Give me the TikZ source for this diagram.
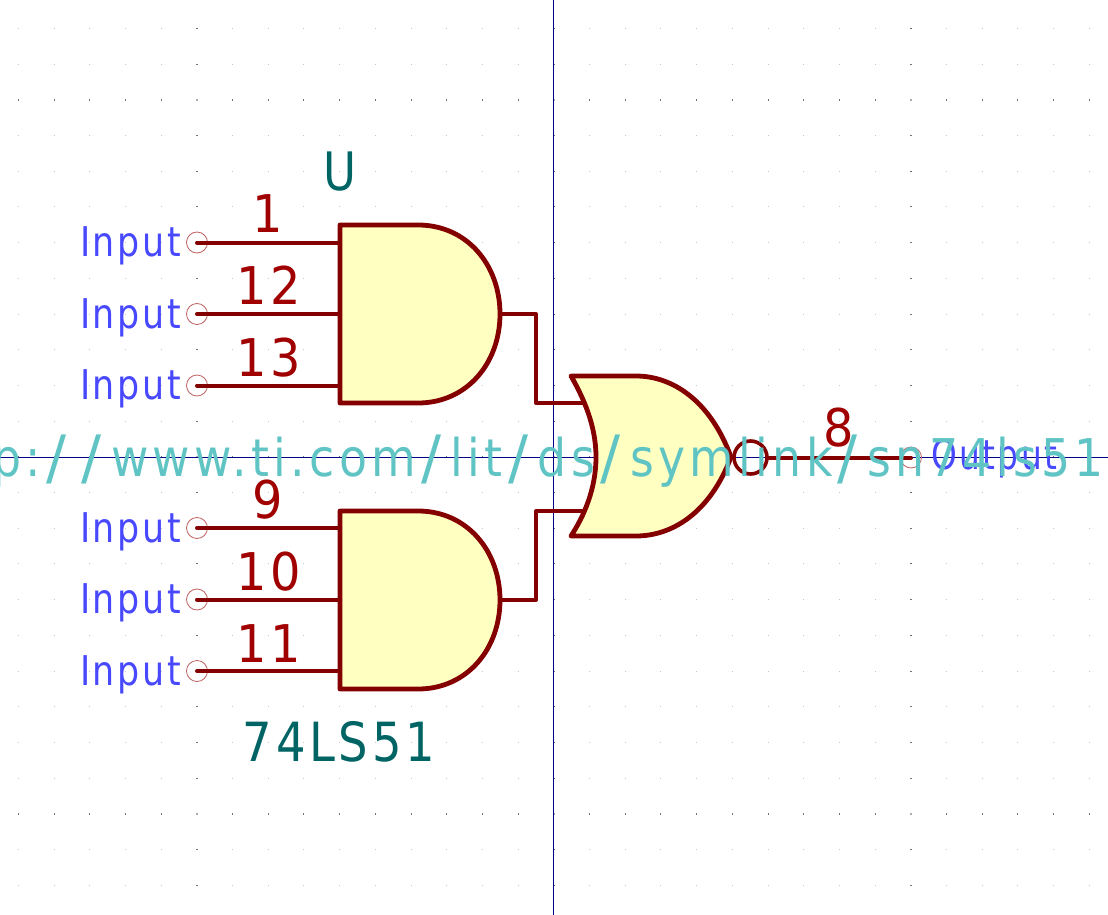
\documentclass[tikz,border=0pt]{standalone}
\usepackage{fontspec}
\usepackage{graphicx}
\setmainfont{DejaVu Sans}
\newfontfamily\urlfont[LetterSpace=9.5]{DejaVu Sans}
\newfontfamily\inpfont[LetterSpace=7.5]{DejaVu Sans}
\newfontfamily\numfont[LetterSpace=8]{DejaVu Sans}
\newcommand{\kt}[3]{\scalebox{#1}[1]{\fontsize{#2}{#2}\selectfont #3}}
\newcommand{\usl}{\hspace{6pt}\raisebox{-2.5pt}{\scalebox{1.3}[1.15]{/}}\hspace{11pt}}
\definecolor{bodyline}{HTML}{840000}
\definecolor{bodyfill}{HTML}{FFFFC2}
\definecolor{pinnum}{HTML}{A00000}
\definecolor{pinname}{HTML}{4848FF}
\definecolor{fieldteal}{HTML}{006464}
\definecolor{urlteal}{HTML}{60C4C4}
\definecolor{axisblue}{HTML}{000084}
\definecolor{endcircle}{HTML}{C06060}
\tikzset{
  gatebody/.style={draw=bodyline,fill=bodyfill,line width=4.8pt,line join=round},
  wire/.style={draw=bodyline,line width=4pt,line cap=round,line join=round},
  endmark/.style={draw=endcircle,line width=0.8pt,fill=none,circle,minimum size=21pt,inner sep=0pt,outer sep=0pt},
  axisline/.style={draw=axisblue,line width=1pt},
  txt/.style={inner sep=0pt,outer sep=0pt},
  pinlabel/.style={txt,anchor=base,text=pinnum},
  inlabel/.style={txt,anchor=base west,text=pinname},
  fieldlabel/.style={txt,anchor=base,text=fieldteal}
}
\newcommand{\griddots}{%
  \foreach \i in {0,...,30}{\foreach \j in {0,...,24}{%
    \pgfmathsetmacro{\gx}{18.3+35.7*\i}%
    \pgfmathsetmacro{\gy}{28.4+35.7*\j}%
    \pgfmathtruncatemacro{\mi}{mod(\i,10)==5 ? 1 : 0}%
    \pgfmathtruncatemacro{\mj}{mod(\j,10)==2 ? 1 : 0}%
    \pgfmathtruncatemacro{\both}{\mi+\mj}%
    \ifnum\both=2
      \fill[black!33] (\gx-1,\gy-1) rectangle (\gx+1,\gy+1);
    \else\ifnum\mi=1
      \fill[black!55] (\gx-1,\gy-0.5) rectangle (\gx+1,\gy+0.5);
    \else\ifnum\mj=1
      \fill[black!55] (\gx-0.5,\gy-1) rectangle (\gx+0.5,\gy+1);
    \else
      \fill[black!22] (\gx-0.5,\gy-0.5) rectangle (\gx+0.5,\gy+0.5);
    \fi\fi\fi
  }}%
}
\begin{document}
\begin{tikzpicture}[x=1pt,y=-1pt]
\useasboundingbox (0,0) rectangle (1108,915);
\begin{scope}
\clip (0,0) rectangle (1108,915);
\griddots
% axes
\coordinate (axT) at (553.5,0);
\coordinate (axB) at (553.5,915);
\coordinate (axL) at (0,457.5);
\coordinate (axR) at (1108,457.5);
\draw[axisline] (axT) -- (axB);
\draw[axisline] (axL) -- (axR);
% upper AND gate
\draw[gatebody] (340,225) -- (418,225) .. controls (467,225) and (500,265) .. (500,314)
  .. controls (500,363) and (467,403) .. (418,403) -- (340,403) -- cycle;
% lower AND gate
\draw[gatebody] (340,511) -- (418,511) .. controls (467,511) and (500,551) .. (500,600)
  .. controls (500,649) and (467,689) .. (418,689) -- (340,689) -- cycle;
% pin end points and body points
\foreach \n/\yy in {a/242.5,b/314,c/385.5,d/528,e/599.5,f/671}{
  \node[endmark] (end\n) at (197,\yy) {};
  \coordinate (pin\n) at (197,\yy);
  \coordinate (body\n) at (340,\yy);
  \draw[wire] (pin\n) -- (body\n);
}
% connections to the OR gate
\coordinate (outU) at (500,314);
\coordinate (outL) at (500,600);
\coordinate (kneeU) at (536,314);
\coordinate (kneeL) at (536,600);
\coordinate (kneeU2) at (536,403);
\coordinate (kneeL2) at (536,511);
\coordinate (orU) at (585,403);
\coordinate (orL) at (585,511);
\draw[wire] (outU) -- (kneeU) -- (kneeU2) -- (orU);
\draw[wire] (outL) -- (kneeL) -- (kneeL2) -- (orL);
% OR gate
\draw[gatebody] (571,376) -- (636,376) .. controls (672,376) and (710,400) .. (731,457)
  .. controls (710,513) and (672,536) .. (636,536) -- (571,536)
  .. controls (584,516) and (596,489) .. (596,457)
  .. controls (596,425) and (583,397) .. (571,376) -- cycle;
% output pin
\node[circle,draw=bodyline,line width=3.6pt,minimum size=33pt,inner sep=0pt,outer sep=1.7pt] (bubble) at (750.5,457.5) {};
\node[endmark] (endo) at (911,457.5) {};
\coordinate (pino) at (911,457.5);
\draw[wire] (bubble) -- (pino);
% pin names
\foreach \n/\yy in {a/256,b/328,c/399,d/542,e/613,f/685}{
  \node[inlabel] (name\n) at (80,\yy) {\kt{0.85}{41}{\inpfont Input}};
}
\node[inlabel] (nameo) at (931,469) {\kt{0.80}{41}{\inpfont Output}};
% pin numbers
\node[pinlabel] (num1) at (268,232) {\kt{0.92}{52}{1}};
\node[pinlabel] (num12) at (269,304) {\kt{0.92}{52}{\numfont 12}};
\node[pinlabel] (num13) at (269,376) {\kt{0.92}{52}{\numfont 13}};
\node[pinlabel] (num9) at (268,518) {\kt{0.92}{52}{9}};
\node[pinlabel] (num10) at (269,590) {\kt{0.92}{52}{\numfont 10}};
\node[pinlabel] (num11) at (269,662) {\kt{0.92}{52}{\numfont 11}};
\node[pinlabel] (num8) at (839,446) {\kt{0.92}{52}{8}};
% fields
\node[fieldlabel] (refU) at (340,190) {\kt{0.85}{53}{U}};
\node[fieldlabel] (val) at (339,761) {\kt{0.86}{54}{\numfont 74LS51}};
\node[txt,anchor=base east,text=urlteal] (url) at (1104,476)
  {\kt{0.88}{52}{\urlfont p:\usl\usl www.ti.com\usl lit\usl ds\usl symlink\usl sn74ls51}};
\end{scope}
\end{tikzpicture}
\end{document}
